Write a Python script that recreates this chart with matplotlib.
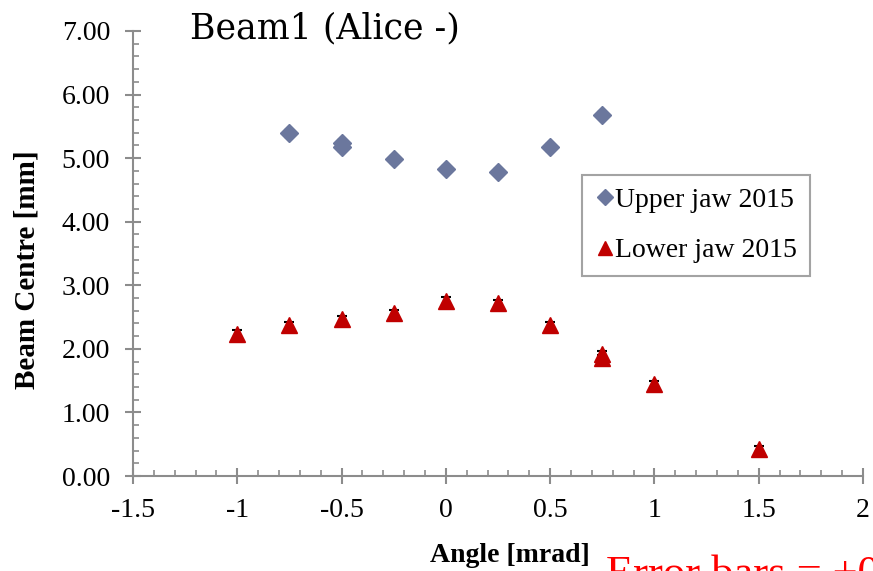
import matplotlib.pyplot as plt
from matplotlib.ticker import MultipleLocator, FormatStrFormatter

# Beam centre vs. jaw angle
upper_angle = [-0.75, -0.5, -0.5, -0.25, 0.0, 0.25, 0.5, 0.75]
upper_centre = [5.39, 5.24, 5.17, 4.98, 4.83, 4.78, 5.17, 5.68]

lower_angle = [-1.0, -0.75, -0.5, -0.25, 0.0, 0.25, 0.5, 0.75, 0.75, 1.0, 1.5]
lower_centre = [2.24, 2.37, 2.47, 2.56, 2.76, 2.72, 2.38, 1.92, 1.86, 1.45, 0.42]

ERR = 0.05  # mm

plt.rcParams['font.family'] = ['Liberation Serif', 'DejaVu Serif']

fig = plt.figure(figsize=(8.73, 5.71), dpi=100)
ax = fig.add_axes([133 / 873, 1 - 476 / 571, (863 - 133) / 873, (476 - 31) / 571])

ax.errorbar(upper_angle, upper_centre, yerr=ERR, fmt='none', ecolor='black',
            elinewidth=1, capsize=3.5, capthick=1.5, zorder=2)
ax.errorbar(lower_angle, lower_centre, yerr=ERR, fmt='none', ecolor='black',
            elinewidth=1, capsize=3.5, capthick=1.5, zorder=2)
ax.plot(upper_angle, upper_centre, 'D', color='#6b779d', markersize=9.5,
        label='Upper jaw 2015', zorder=3)
ax.plot(lower_angle, lower_centre, '^', color='#c00000', markersize=12,
        label='Lower jaw 2015', zorder=3)

ax.set_xlim(-1.5, 2)
ax.set_ylim(0, 7)
ax.xaxis.set_major_locator(MultipleLocator(0.5))
ax.xaxis.set_minor_locator(MultipleLocator(0.1))
ax.yaxis.set_major_locator(MultipleLocator(1))
ax.yaxis.set_minor_locator(MultipleLocator(0.2))
ax.yaxis.set_major_formatter(FormatStrFormatter('%.2f'))
ax.xaxis.set_major_formatter(lambda v, p: f'{v:g}')

for s in ['top', 'right']:
    ax.spines[s].set_visible(False)
for s in ['left', 'bottom']:
    ax.spines[s].set_color('#8c8c8c')
    ax.spines[s].set_linewidth(1.5)

ax.tick_params(which='major', direction='inout', length=11, width=1.5,
               color='#8c8c8c', labelsize=20)
ax.tick_params(axis='y', which='major', pad=11)
ax.tick_params(axis='x', which='major', pad=10)
ax.tick_params(which='minor', direction='in', length=4.5, width=1.2, color='#8c8c8c')

ax.set_ylabel('Beam Centre [mm]', fontsize=21, fontweight='bold')
ax.yaxis.set_label_coords((27 - 133) / 730, (476 - 270) / 445)
ax.set_xlabel('Angle [mrad]', fontsize=20, fontweight='bold')
ax.xaxis.set_label_coords((510 - 133) / 730, (476 - 555) / 445)
ax.xaxis.label.set_va('center')
ax.yaxis.label.set_va('center')

fig.text(190 / 873, 1 - 28 / 571, 'Beam1 (Alice -)', fontsize=25, va='center',
         family=['DejaVu Serif'])
fig.text(606 / 873, 1 - 586 / 571, 'Error bars = \u00b10.05 mm', fontsize=32,
         color='red', va='baseline')

leg = ax.legend(loc='upper left', bbox_to_anchor=((582 - 133) / 730, (476 - 175) / 445),
                fontsize=20, frameon=True, fancybox=False, handletextpad=0.0,
                borderpad=0.45, labelspacing=0.9, handlelength=0.75,
                borderaxespad=0, markerscale=0.85)
leg.get_frame().set_edgecolor('#8c8c8c')
leg.get_frame().set_linewidth(1.5)

fig.savefig('out.png', dpi=100)
